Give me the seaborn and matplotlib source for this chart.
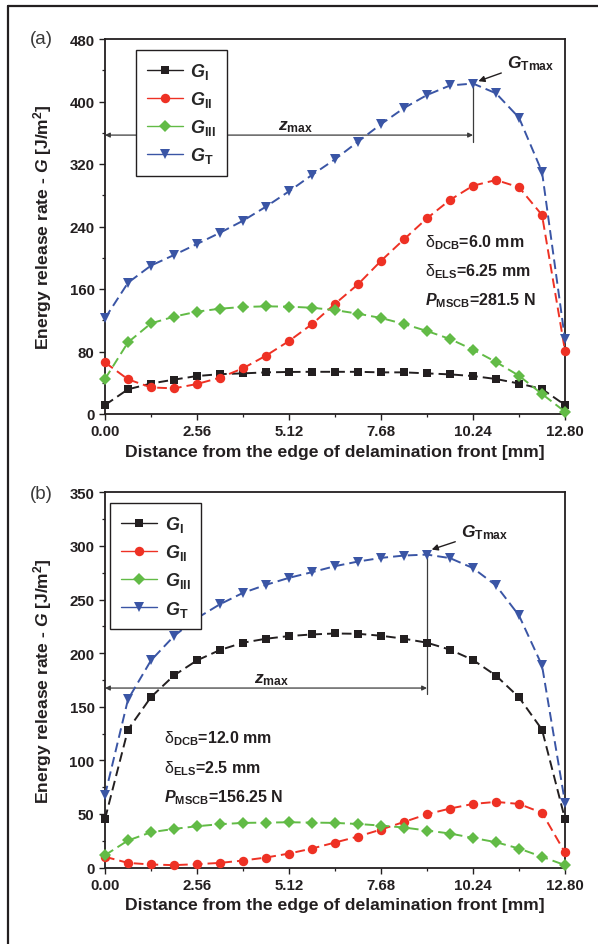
import numpy as np
import pandas as pd
import matplotlib
matplotlib.use("Agg")
import matplotlib.pyplot as plt
import seaborn as sns
from matplotlib.lines import Line2D
from matplotlib.ticker import MultipleLocator

# ---------------- data ----------------
x_mm = [0.00, 0.64, 1.28, 1.92, 2.56, 3.20, 3.84, 4.48, 5.12, 5.76, 6.40,
        7.04, 7.68, 8.32, 8.96, 9.60, 10.24, 10.88, 11.52, 12.16, 12.80]

# panel (a)
a_GI = [11.5, 31.6, 39, 44, 48.6, 51, 52, 53.3, 53.8, 54, 54, 54, 53.3, 53.3,
        52, 50.7, 48.6, 44.8, 39, 32, 11.5]
a_GII = [66, 44.4, 34, 32.8, 38.4, 46.5, 58.5, 74.7, 93.4, 115, 141, 166, 196,
         223.6, 250.5, 274, 292.2, 299.5, 290.2, 254.7, 81]
a_GIII = [44.8, 91.7, 116, 124.6, 131, 134.8, 137, 137.8, 137.4, 136, 133,
          128.4, 122.9, 115.2, 106.2, 96, 82.3, 66.6, 49, 25.6, 3]
a_GT = [122.5, 168, 190, 203.5, 217.6, 232, 247.4, 265.4, 285, 306, 326,
        348.6, 371, 391.6, 408.3, 420.5, 423, 410.5, 379.3, 310, 95.6]

# panel (b)
b_GI = [45.3, 128.6, 159, 179.2, 193.2, 202.9, 209.7, 213.4, 215.9, 217.4,
        218.3, 218, 216.2, 213.4, 209.7, 203.2, 193.6, 179, 158.7, 128.6, 45.3]
b_GII = [10, 4.3, 2.8, 2.2, 3.1, 4.3, 6.5, 9.3, 13, 17.7, 23.3, 28.9, 35.4,
         42.5, 49.7, 55, 59.3, 61.2, 59.3, 51, 14]
b_GIII = [11.5, 25.2, 32.9, 36, 38.5, 40.4, 41.6, 41.9, 42.2, 41.9, 41.6, 40.6,
          39.1, 37.3, 34.5, 31.7, 27.6, 23.6, 17.7, 10, 2.2]
b_GT = [67.4, 156.8, 193.2, 215.9, 232.6, 245.6, 256.2, 263.7, 270.2, 275.5,
        281.1, 285.4, 288.8, 291, 291.9, 288.6, 279.3, 263.1, 235.1, 188.5, 60.5]

series_names = ["GI", "GII", "GIII", "GT"]
legend_labels = [r"$\mathbfit{G}_{\mathbf{I}}$", r"$\mathbfit{G}_{\mathbf{II}}$",
                 r"$\mathbfit{G}_{\mathbf{III}}$", r"$\mathbfit{G}_{\mathbf{T}}$"]
x_ticks = [0.00, 2.56, 5.12, 7.68, 10.24, 12.80]
x_tick_labels = ["0.00", "2.56", "5.12", "7.68", "10.24", "12.80"]
a_yticks = [0, 80, 160, 240, 320, 400, 480]
b_yticks = [0, 50, 100, 150, 200, 250, 300, 350]

a_texts = [r"$\mathrm{\delta}_{\mathbf{DCB}}$=6.0 mm", r"$\mathrm{\delta}_{\mathbf{ELS}}$=6.25 mm",
           r"$\mathbfit{P}_{\mathbf{MSCB}}$=281.5 N"]
b_texts = [r"$\mathrm{\delta}_{\mathbf{DCB}}$=12.0 mm", r"$\mathrm{\delta}_{\mathbf{ELS}}$=2.5 mm",
           r"$\mathbfit{P}_{\mathbf{MSCB}}$=156.25 N"]

# ---------------- style ----------------
sns.set_style("ticks")
plt.rcParams["font.family"] = ["Liberation Sans", "DejaVu Sans"]
plt.rcParams["mathtext.fontset"] = "custom"
plt.rcParams["mathtext.rm"] = "Liberation Sans"
plt.rcParams["mathtext.it"] = "Liberation Sans:italic"
plt.rcParams["mathtext.bf"] = "Liberation Sans:bold"
plt.rcParams["mathtext.bfit"] = "Liberation Sans:bold:italic"
plt.rcParams["mathtext.sf"] = "Liberation Sans"

TXT = "#231f20"
colors = {"GI": "#231f20", "GII": "#ee3124", "GIII": "#62bb46", "GT": "#3a55a5"}
markers = {"GI": "s", "GII": "o", "GIII": "D", "GT": "v"}
msizes = {"GI": 6.0, "GII": 6.8, "GIII": 6.2, "GT": 7.6}
dashes = {k: (5, 2.6) for k in series_names}


def make_df(vals):
    rows = []
    for name, v in zip(series_names, vals):
        for xx, yy in zip(x_mm, v):
            rows.append({"x": xx, "G": yy, "series": name})
    return pd.DataFrame(rows)


fig = plt.figure(figsize=(5.98, 9.45), dpi=100)
W, H = 598, 945
ax_a = fig.add_axes([105 / W, 1 - 415 / H, 460 / W, 375 / H])
ax_b = fig.add_axes([105 / W, 1 - 868.5 / H, 460 / W, 375.2 / H])

# frame lines (top + left) of the original figure
fig.add_artist(Line2D([8 / W, 1.0], [1 - 7 / H, 1 - 7 / H], color=TXT, lw=1.6,
                      transform=fig.transFigure))
fig.add_artist(Line2D([8 / W, 8 / W], [1 - 7 / H, 0.0], color=TXT, lw=1.6,
                      transform=fig.transFigure))

panels = [
    (ax_a, [a_GI, a_GII, a_GIII, a_GT], a_yticks, 480, 40, "(a)", a_texts,
     dict(arrow_y=357, vline_low=348, zx=5.29, tmax_text=(11.85, 450), tmax_tip=(10.39, 426),
          txt_x=8.9, txt_y=[215, 178, 141], leg=(0.055, 0.985))),
    (ax_b, [b_GI, b_GII, b_GIII, b_GT], b_yticks, 350, 25, "(b)", b_texts,
     dict(arrow_y=167.4, vline_low=162, zx=4.64, tmax_text=(10.57, 313), tmax_tip=(9.09, 296.6),
          txt_x=1.65, txt_y=[116.5, 89, 61.8], leg=(0.0, 0.985))),
]

for ax, vals, yticks, ymax, yminor, tag, texts, opt in panels:
    df = make_df(vals)
    sns.lineplot(data=df, x="x", y="G", hue="series", style="series",
                 palette=colors, markers=markers, dashes=dashes, ax=ax,
                 legend=False, sort=False, errorbar=None, lw=1.4,
                 markeredgewidth=0, clip_on=False)
    for line, name in zip(ax.get_lines(), series_names):
        line.set_markersize(msizes[name])
        line.set_zorder(3)
        line.set_clip_on(False)

    ax.set_xlim(0, 12.8)
    ax.set_ylim(0, ymax)
    ax.set_xticks(x_ticks)
    ax.set_xticklabels(x_tick_labels)
    ax.set_yticks(yticks)
    ax.xaxis.set_minor_locator(MultipleLocator(1.28))
    ax.yaxis.set_minor_locator(MultipleLocator(yminor))
    ax.tick_params(axis="both", which="major", direction="out", length=4.5,
                   width=1.0, labelsize=10.8, colors=TXT, pad=3)
    ax.tick_params(axis="both", which="minor", direction="out", length=2.5,
                   width=0.9, colors=TXT)
    for lab in ax.get_xticklabels() + ax.get_yticklabels():
        lab.set_fontweight("bold")
    for sp in ax.spines.values():
        sp.set_visible(True)
        sp.set_linewidth(1.3)
        sp.set_color(TXT)
    ax.set_xlabel("Distance from the edge of delamination front [mm]",
                  fontsize=12.6, fontweight="bold", color=TXT, labelpad=4)
    ax.set_ylabel(r"Energy release rate - $\mathbfit{G}$ [J/m$^{\mathbf{2}}$]",
                  fontsize=12.6, fontweight="bold", color=TXT, labelpad=11)

    # G_T maximum marker lines
    gt = vals[3]
    imax = int(np.argmax(gt))
    xm, ym = x_mm[imax], gt[imax]
    ax.plot([xm, xm], [opt["vline_low"], ym], color="#3c3c3c", lw=0.9, zorder=2)
    ax.annotate("", xy=(0, opt["arrow_y"]), xytext=(xm, opt["arrow_y"]),
                arrowprops=dict(arrowstyle="<|-|>", color="#3c3c3c", lw=0.9,
                                shrinkA=0, shrinkB=0, mutation_scale=7),
                annotation_clip=False, zorder=2)
    ax.text(opt["zx"], opt["arrow_y"] + 1, r"$\mathbfit{z}_{\mathbf{max}}$",
            ha="center", va="bottom", fontsize=12.5, color=TXT)
    ax.annotate(r"$\mathbfit{G}_{\mathbf{Tmax}}$", xy=opt["tmax_tip"],
                xytext=opt["tmax_text"], ha="center", va="center",
                fontsize=12.5, color=TXT,
                arrowprops=dict(arrowstyle="-|>", color=TXT, lw=1.0,
                                mutation_scale=9, shrinkA=2, shrinkB=0))

    for t, ty in zip(texts, opt["txt_y"]):
        ax.text(opt["txt_x"], ty, t, ha="left", va="baseline", fontsize=11.5,
                fontweight="bold", color=TXT)

    handles = [Line2D([0], [0], color=colors[n], lw=1.0, marker=markers[n],
                      markersize=msizes[n], markeredgewidth=0)
               for n in series_names]
    leg = ax.legend(handles, legend_labels, loc="upper left",
                    bbox_to_anchor=opt["leg"], frameon=True, fancybox=False,
                    edgecolor=TXT, fontsize=13, handlelength=2.0,
                    labelspacing=0.45, borderpad=0.6, handletextpad=0.4,
                    borderaxespad=0.3)
    leg.get_frame().set_linewidth(1.0)
    leg.get_frame().set_alpha(1)

    fig.text(30 / W, 1 - (40 if tag == "(a)" else 495) / H, tag, fontsize=13.5,
             color="#3a3a3a", ha="left", va="center")

fig.savefig("out.png", dpi=100)
